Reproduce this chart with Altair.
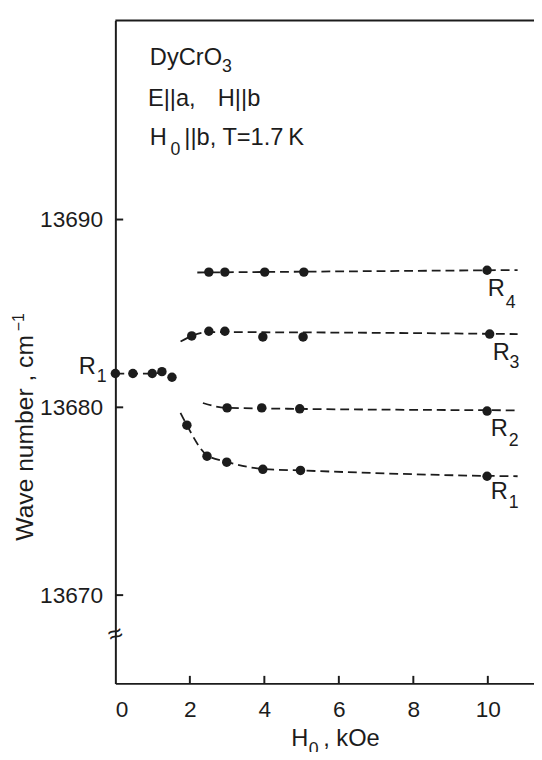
import altair as alt
import pandas as pd

FONT = "Liberation Sans"
INK = "#1c1c1c"

# ---- axis ranges / ticks ----
X_MIN, X_MAX = 0.0, 11.24
Y_MIN, Y_MAX = 13665.3, 13700.6
x_ticks = [0, 2, 4, 6, 8, 10]
y_ticks = [13670, 13680, 13690]

# ---- measured points ----
r1_low_x = [0.0, 0.47, 0.99, 1.25, 1.52]
r1_low_y = [13681.8, 13681.8, 13681.8, 13681.9, 13681.6]
r4_x = [2.51, 2.94, 4.01, 5.06, 9.98]
r4_y = [13687.2, 13687.2, 13687.2, 13687.2, 13687.3]
r3_x = [2.05, 2.51, 2.94, 3.96, 5.04, 10.05]
r3_y = [13683.8, 13684.05, 13684.05, 13683.75, 13683.75, 13683.9]
r2_x = [3.0, 3.93, 4.95, 9.98]
r2_y = [13679.97, 13679.97, 13679.92, 13679.8]
r1_x = [1.92, 2.46, 2.99, 3.96, 4.97, 9.98]
r1_y = [13679.05, 13677.4, 13677.08, 13676.7, 13676.64, 13676.33]

# ---- dashed guide curves ----
g_r1_low_x = [0.0, 0.47, 0.99, 1.25, 1.52]
g_r1_low_y = [13681.8, 13681.8, 13681.8, 13681.85, 13681.6]
g_r4_x = [2.2, 10.8]
g_r4_y = [13687.18, 13687.31]
g_r3_x = [1.75, 2.05, 2.5, 3.0, 10.8]
g_r3_y = [13683.5, 13683.8, 13684.0, 13684.0, 13683.9]
g_r2_x = [2.35, 3.0, 10.8]
g_r2_y = [13680.23, 13679.97, 13679.84]
g_r1_x = [1.75, 1.92, 2.46, 2.99, 3.96, 4.97, 9.98, 10.8]
g_r1_y = [13679.7, 13679.05, 13677.45, 13677.1, 13676.72, 13676.64, 13676.35, 13676.33]

# ---- text annotations: (x, y, text) ----
big_text = [
    (0.926, 13698.23, "DyCrO"),
    (0.873, 13696.06, "E||a,"),
    (2.75, 13696.06, "H||b"),
    (0.926, 13693.96, "H"),
    (1.85, 13693.96, "||b, T=1.7\u2009K"),
    (10.0, 13685.91, "R"),
    (10.13, 13682.5, "R"),
    (10.08, 13678.46, "R"),
    (10.08, 13675.1, "R"),
    (-0.98, 13681.77, "R"),
    (4.72, 13661.95, "H"),
    (5.58, 13661.95, ", kOe"),
]
small_text = [
    (2.86, 13697.87, "3"),
    (1.48, 13693.45, "0"),
    (10.48, 13685.28, "4"),
    (10.58, 13682.08, "3"),
    (10.56, 13677.94, "2"),
    (10.56, 13674.64, "1"),
    (-0.50, 13681.35, "1"),
    (5.19, 13661.5, "0"),
]
y_title = [(-2.22, 13672.9, "Wave number , cm")]
y_title_sup = [(-2.45, 13684.05, "\u22121")]
break_mark = [(0.0, 13667.9, "\u2248")]


def pts(series, xs, ys):
    return pd.DataFrame({"x": xs, "y": ys, "s": series, "i": list(range(len(xs)))})


points = pd.concat([
    pts("R1a", r1_low_x, r1_low_y), pts("R4", r4_x, r4_y), pts("R3", r3_x, r3_y),
    pts("R2", r2_x, r2_y), pts("R1", r1_x, r1_y)])
guides = pd.concat([
    pts("R1a", g_r1_low_x, g_r1_low_y), pts("R4", g_r4_x, g_r4_y), pts("R3", g_r3_x, g_r3_y),
    pts("R2", g_r2_x, g_r2_y), pts("R1", g_r1_x, g_r1_y)])


def tdf(rows):
    return pd.DataFrame(rows, columns=["x", "y", "t"])


xs = alt.Scale(domain=[X_MIN, X_MAX], nice=False, zero=False)
ys = alt.Scale(domain=[Y_MIN, Y_MAX], nice=False, zero=False)
X = alt.X("x:Q", scale=xs, axis=alt.Axis(values=x_ticks, format="d", title=None, labelPadding=16))
Y = alt.Y("y:Q", scale=ys, axis=alt.Axis(values=y_ticks, format="d", title=None, labelPadding=13))

guide_layer = alt.Chart(guides).mark_line(
    strokeDash=[9, 5], strokeWidth=1.8, color=INK, interpolate="monotone"
).encode(x=X, y=Y, detail="s:N", order="i:Q")

point_layer = alt.Chart(points).mark_circle(size=92, color=INK, opacity=1).encode(x=X, y=Y)

ytick_layer = alt.Chart(pd.DataFrame({"y": y_ticks})).mark_rule(strokeWidth=2, color=INK).encode(
    y=Y, x=alt.datum(0.0), x2=alt.datum(0.21))
xtick_layer = alt.Chart(pd.DataFrame({"x": x_ticks[1:]})).mark_rule(strokeWidth=2, color=INK).encode(
    x=X, y=alt.datum(Y_MIN), y2=alt.datum(Y_MIN + 0.4))
top_layer = alt.Chart(pd.DataFrame({"y": [Y_MAX]})).mark_rule(strokeWidth=2, color=INK).encode(y=Y)

big_layer = alt.Chart(tdf(big_text)).mark_text(
    align="left", baseline="alphabetic", font=FONT, fontSize=24, color=INK
).encode(x=X, y=Y, text="t:N")
small_layer = alt.Chart(tdf(small_text)).mark_text(
    align="left", baseline="alphabetic", font=FONT, fontSize=18, color=INK
).encode(x=X, y=Y, text="t:N")
ytitle_layer = alt.Chart(tdf(y_title)).mark_text(
    align="left", baseline="alphabetic", font=FONT, fontSize=25, color=INK, angle=270
).encode(x=X, y=Y, text="t:N")
ysup_layer = alt.Chart(tdf(y_title_sup)).mark_text(
    align="left", baseline="alphabetic", font=FONT, fontSize=16, color=INK, angle=270
).encode(x=X, y=Y, text="t:N")
break_layer = alt.Chart(tdf(break_mark)).mark_text(
    align="center", baseline="middle", font=FONT, fontSize=26, color=INK, angle=340
).encode(x=X, y=Y, text="t:N")

chart = alt.layer(
    top_layer, ytick_layer, xtick_layer, guide_layer, point_layer,
    big_layer, small_layer, ytitle_layer, ysup_layer, break_layer
).properties(
    width=425, height=673,
    autosize=alt.AutoSizeParams(type="none"),
    padding={"left": 109, "top": 7, "right": 0, "bottom": 64},
).configure_view(stroke=None).configure_axis(
    grid=False, ticks=False, tickSize=0, domainColor=INK, domainWidth=2,
    labelFont=FONT, labelFontSize=23, labelColor=INK,
)

chart.save("out.html", embed_options={"renderer": "svg", "actions": False})
